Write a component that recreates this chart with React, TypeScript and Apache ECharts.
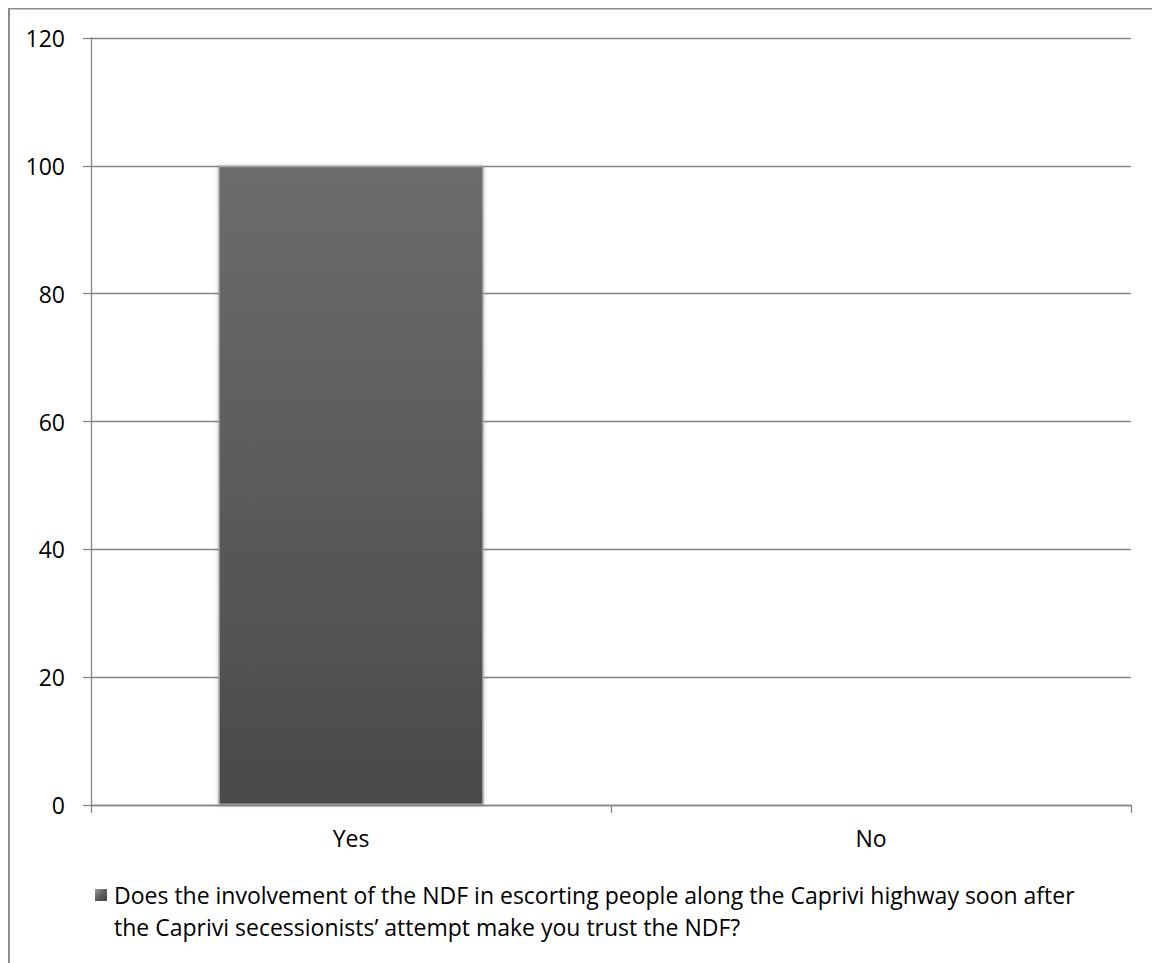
import React, { useEffect, useRef } from "react";
import * as echarts from "echarts";

const categories = ["Yes", "No"];
const seriesName =
  "Does the involvement of the NDF in escorting people along the Caprivi highway soon after the Caprivi secessionists\u2019 attempt make you trust the NDF?";
const legendLines = [
  "Does the involvement of the NDF in escorting people along the Caprivi highway soon after",
  "the Caprivi secessionists\u2019 attempt make you trust the NDF?",
];
const values = [100, 0];
const yTicks = { min: 0, max: 120, interval: 20 };

const FONT = "'Open Sans', 'Noto Sans', sans-serif";
const AXIS = "#868686";

export default function App() {
  const ref = useRef<HTMLDivElement>(null);
  useEffect(() => {
    if (!ref.current) return;
    const chart = echarts.init(ref.current, undefined, { renderer: "svg" });
    chart.setOption({
      animation: false,
      backgroundColor: "#ffffff",
      textStyle: { fontFamily: FONT },
      grid: { left: 83, top: 30, right: 29, bottom: 158, containLabel: false },
      xAxis: {
        type: "category",
        data: categories,
        axisLine: { show: true, lineStyle: { color: AXIS, width: 1.3 } },
        axisTick: { show: true, length: 8, alignWithLabel: false, lineStyle: { color: AXIS, width: 1.3 } },
        axisLabel: { color: "#000", fontSize: 23, fontFamily: FONT, margin: 21 },
        splitLine: { show: false },
      },
      yAxis: {
        type: "value",
        min: yTicks.min,
        max: yTicks.max,
        interval: yTicks.interval,
        axisLine: { show: true, lineStyle: { color: AXIS, width: 1.3 } },
        axisTick: { show: true, length: 8, lineStyle: { color: AXIS, width: 1.3 } },
        axisLabel: { color: "#000", fontSize: 23, fontFamily: FONT, margin: 26 },
        splitLine: { show: true, lineStyle: { color: AXIS, width: 1.3 } },
      },
      series: [
        {
          name: seriesName,
          type: "bar",
          data: values,
          barWidth: "51%",
          itemStyle: {
            color: new echarts.graphic.LinearGradient(0, 0, 0, 1, [
              { offset: 0, color: "#6c6c6c" },
              { offset: 1, color: "#4a4a4a" },
            ]),
            borderColor: "#a0a0a0",
            borderWidth: 1.5,
            shadowColor: "rgba(0,0,0,0.25)",
            shadowBlur: 4,
          },
        },
      ],
      graphic: [
        {
          type: "rect",
          shape: { x: 1, y: 0.5, width: 1149, height: 1100 },
          style: { fill: "none", stroke: "#8c8c8c", lineWidth: 2 },
          silent: true,
          z: 100,
        },
        {
          type: "rect",
          shape: { x: 87, y: 881, width: 12, height: 12 },
          style: {
            fill: new echarts.graphic.LinearGradient(0, 0, 1, 1, [
              { offset: 0, color: "#9a9a9a" },
              { offset: 0.5, color: "#5e5e5e" },
              { offset: 1, color: "#454545" },
            ]),
          },
        },
        {
          type: "text",
          x: 106,
          y: 871,
          style: {
            text: legendLines.join("\n"),
            font: `23px ${FONT}`,
            fill: "#000",
            lineHeight: 32,
            verticalAlign: "top",
            align: "left",
          },
        },
      ],
    });
    return () => chart.dispose();
  }, []);
  return <div ref={ref} style={{ width: 1152, height: 955 }} />;
}
